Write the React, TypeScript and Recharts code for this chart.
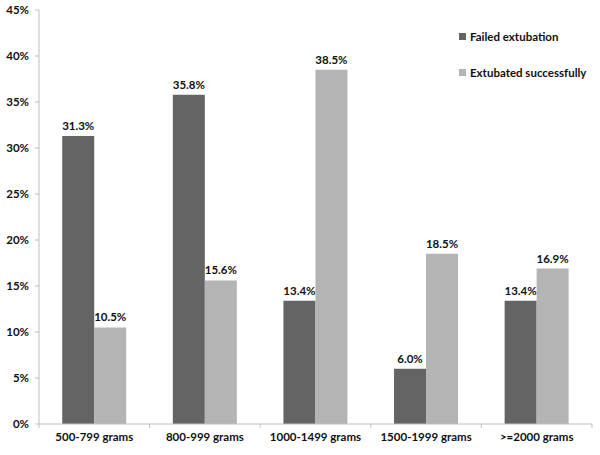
import { BarChart, Bar, XAxis, YAxis, LabelList } from 'recharts';

const categories = ['500-799 grams', '800-999 grams', '1000-1499 grams', '1500-1999 grams', '>=2000 grams'];
const failed = [31.3, 35.8, 13.4, 6.0, 13.4];
const successful = [10.5, 15.6, 38.5, 18.5, 16.9];
const yTicks = [0, 5, 10, 15, 20, 25, 30, 35, 40, 45];
const seriesNames = ['Failed extubation', 'Extubated successfully'];

const data = categories.map((name, i) => ({ name, failed: failed[i], successful: successful[i] }));

const FONT = 'Lato, "Open Sans", sans-serif';
const DARK = '#646464';
const LIGHT = '#b4b4b4';
const BAND = (592 - 39) / categories.length;

function CategoryTick(props: any) {
  const { x, y, payload, index } = props;
  return (
    <g>
      <line x1={x - BAND / 2} y1={y - 8} x2={x - BAND / 2} y2={y - 4} stroke="#bfbfbf" />
      {index === categories.length - 1 && (
        <line x1={x + BAND / 2} y1={y - 8} x2={x + BAND / 2} y2={y - 4} stroke="#bfbfbf" />
      )}
      <text x={x} y={y + 9} textAnchor="middle" fontFamily={FONT} fontSize={11.5} fontWeight={700} fill="#111">
        {payload.value}
      </text>
    </g>
  );
}

function LegendBox() {
  const colors = [DARK, LIGHT];
  return (
    <div style={{ position: 'absolute', left: 459, top: 28, fontFamily: FONT, fontSize: 11.5, fontWeight: 700, color: '#111' }}>
      {seriesNames.map((label, i) => (
        <div key={label} style={{ display: 'flex', alignItems: 'center', height: 16, marginBottom: 20 }}>
          <span style={{ width: 7, height: 7, background: colors[i], marginRight: 4, display: 'inline-block' }} />
          {label}
        </div>
      ))}
    </div>
  );
}

const labelStyle = { fontFamily: FONT, fontSize: 11.5, fontWeight: 700, fill: '#111' };

export default function App() {
  return (
    <div style={{ position: 'absolute', left: 0, top: 0, width: 600, height: 455, background: '#fff' }}>
      <BarChart
        width={600}
        height={455}
        data={data}
        margin={{ top: 10, right: 8, bottom: 0, left: 0 }}
        barCategoryGap="21%"
        barGap={0}
      >
        <XAxis
          dataKey="name"
          height={31}
          stroke="#bfbfbf"
          tickLine={false}
          tick={<CategoryTick />}
          interval={0}
        />
        <YAxis
          width={39}
          domain={[0, 45]}
          ticks={yTicks}
          stroke="#bfbfbf"
          tickSize={4}
          tickMargin={6}
          tickFormatter={(v: number) => `${v}%`}
          tick={{ fontFamily: FONT, fontSize: 11.5, fontWeight: 700, fill: '#111' }}
        />
        <Bar dataKey="failed" name={seriesNames[0]} fill={DARK} isAnimationActive={false}>
          <LabelList
            dataKey="failed"
            position="top"
            offset={6}
            formatter={(v: any) => `${Number(v).toFixed(1)}%`}
            style={labelStyle}
          />
        </Bar>
        <Bar dataKey="successful" name={seriesNames[1]} fill={LIGHT} isAnimationActive={false}>
          <LabelList
            dataKey="successful"
            position="top"
            offset={6}
            formatter={(v: any) => `${Number(v).toFixed(1)}%`}
            style={labelStyle}
          />
        </Bar>
      </BarChart>
      <LegendBox />
    </div>
  );
}
